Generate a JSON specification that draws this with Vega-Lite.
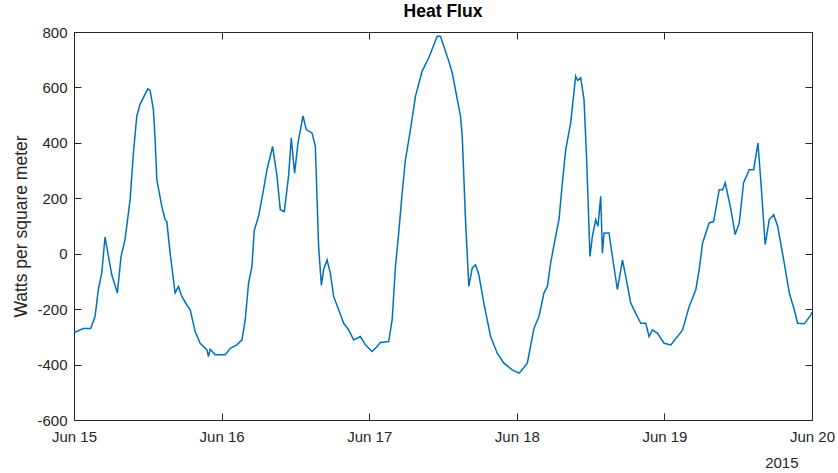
{
  "$schema": "https://vega.github.io/schema/vega-lite/v6.json",
  "autosize": "none",
  "width": 738,
  "height": 388,
  "padding": {"left": 74, "top": 32, "right": 26, "bottom": 53},
  "background": "white",
  "config": {
    "font": "Liberation Sans",
    "view": {"stroke": "#262626", "strokeWidth": 1},
    "axis": {"grid": false, "domain": false, "tickColor": "#262626", "tickSize": -7, "labelColor": "#262626", "labelFontSize": 15, "labelFont": "Liberation Sans", "titleFont": "Liberation Sans", "titleColor": "#262626", "titleFontWeight": "normal", "labelFlush": false, "labelOverlap": false}
  },
  "title": {"text": "Heat Flux", "fontSize": 17.5, "fontWeight": "bold", "color": "#000000", "offset": 5, "font": "Liberation Sans"},
  "data": {"values": [
    {"t": 0, "v": -282}, {"t": 0.16, "v": -283}, {"t": 1.51, "v": -270}, {"t": 2.72, "v": -270},
    {"t": 3.42, "v": -227}, {"t": 3.96, "v": -130}, {"t": 4.51, "v": -69}, {"t": 5.05, "v": 60},
    {"t": 6.14, "v": -76}, {"t": 7.05, "v": -142}, {"t": 7.65, "v": -10}, {"t": 8.3, "v": 51},
    {"t": 9.12, "v": 195}, {"t": 9.66, "v": 364}, {"t": 10.21, "v": 496}, {"t": 10.75, "v": 540},
    {"t": 12.0, "v": 595}, {"t": 12.37, "v": 590}, {"t": 12.91, "v": 520}, {"t": 13.19, "v": 412},
    {"t": 13.47, "v": 267}, {"t": 14.28, "v": 171}, {"t": 14.82, "v": 123}, {"t": 15.09, "v": 116},
    {"t": 15.63, "v": 2}, {"t": 16.44, "v": -142}, {"t": 16.98, "v": -118}, {"t": 17.54, "v": -154},
    {"t": 18.35, "v": -185}, {"t": 18.89, "v": -202}, {"t": 19.7, "v": -281}, {"t": 20.52, "v": -323},
    {"t": 21.61, "v": -347}, {"t": 21.87, "v": -371}, {"t": 22.14, "v": -345}, {"t": 22.96, "v": -365},
    {"t": 24.59, "v": -365}, {"t": 25.4, "v": -341}, {"t": 26.49, "v": -329}, {"t": 27.31, "v": -311},
    {"t": 27.84, "v": -239}, {"t": 28.38, "v": -107}, {"t": 28.93, "v": -46}, {"t": 29.31, "v": 84},
    {"t": 30.01, "v": 135}, {"t": 30.82, "v": 231}, {"t": 31.38, "v": 303}, {"t": 32.29, "v": 387},
    {"t": 33.01, "v": 280}, {"t": 33.54, "v": 159}, {"t": 34.19, "v": 152}, {"t": 34.89, "v": 280},
    {"t": 35.33, "v": 418}, {"t": 35.87, "v": 291}, {"t": 36.42, "v": 399}, {"t": 37.24, "v": 497},
    {"t": 37.77, "v": 448}, {"t": 38.7, "v": 436}, {"t": 39.24, "v": 387}, {"t": 39.78, "v": 24},
    {"t": 40.22, "v": -114}, {"t": 40.59, "v": -58}, {"t": 41.15, "v": -22}, {"t": 41.68, "v": -70},
    {"t": 42.22, "v": -154}, {"t": 43.03, "v": -202}, {"t": 43.85, "v": -251}, {"t": 44.66, "v": -275},
    {"t": 45.48, "v": -311}, {"t": 46.57, "v": -299}, {"t": 47.38, "v": -329}, {"t": 48.47, "v": -353},
    {"t": 49.29, "v": -335}, {"t": 49.82, "v": -320}, {"t": 51.17, "v": -317}, {"t": 51.73, "v": -239},
    {"t": 52.27, "v": -46}, {"t": 52.8, "v": 75}, {"t": 53.36, "v": 219}, {"t": 53.89, "v": 339},
    {"t": 54.71, "v": 448}, {"t": 55.52, "v": 568}, {"t": 56.61, "v": 659}, {"t": 57.69, "v": 707},
    {"t": 59.06, "v": 785}, {"t": 59.59, "v": 785}, {"t": 60.94, "v": 695}, {"t": 61.5, "v": 653},
    {"t": 62.85, "v": 496}, {"t": 63.13, "v": 424}, {"t": 63.66, "v": 123}, {"t": 64.2, "v": -118},
    {"t": 64.75, "v": -52}, {"t": 65.29, "v": -40}, {"t": 65.83, "v": -76}, {"t": 66.64, "v": -178},
    {"t": 67.74, "v": -299}, {"t": 68.82, "v": -359}, {"t": 69.9, "v": -395}, {"t": 71.27, "v": -419},
    {"t": 72.34, "v": -431}, {"t": 72.62, "v": -425}, {"t": 73.71, "v": -395}, {"t": 74.79, "v": -270},
    {"t": 75.6, "v": -227}, {"t": 76.41, "v": -142}, {"t": 76.97, "v": -118}, {"t": 77.5, "v": -34},
    {"t": 78.32, "v": 63}, {"t": 78.86, "v": 123}, {"t": 79.41, "v": 256}, {"t": 79.95, "v": 375},
    {"t": 80.76, "v": 472}, {"t": 81.57, "v": 641}, {"t": 81.9, "v": 625}, {"t": 82.39, "v": 635},
    {"t": 82.93, "v": 556}, {"t": 83.36, "v": 339}, {"t": 83.9, "v": -10}, {"t": 84.29, "v": 63},
    {"t": 84.83, "v": 123}, {"t": 85.2, "v": 99}, {"t": 85.64, "v": 207}, {"t": 85.92, "v": 2},
    {"t": 86.18, "v": 75}, {"t": 86.99, "v": 75}, {"t": 87.55, "v": -10}, {"t": 88.36, "v": -130},
    {"t": 89.18, "v": -22}, {"t": 89.71, "v": -82}, {"t": 90.53, "v": -178}, {"t": 91.34, "v": -215},
    {"t": 92.16, "v": -251}, {"t": 92.97, "v": -251}, {"t": 93.51, "v": -299}, {"t": 94.06, "v": -275},
    {"t": 94.88, "v": -287}, {"t": 95.95, "v": -323}, {"t": 97.04, "v": -329}, {"t": 98.13, "v": -299},
    {"t": 98.95, "v": -275}, {"t": 100.02, "v": -191}, {"t": 101.11, "v": -130}, {"t": 101.65, "v": -58},
    {"t": 102.21, "v": 39}, {"t": 103.28, "v": 111}, {"t": 104.0, "v": 116}, {"t": 104.91, "v": 231},
    {"t": 105.47, "v": 231}, {"t": 105.89, "v": 256}, {"t": 106.82, "v": 159}, {"t": 107.51, "v": 69},
    {"t": 108.17, "v": 111}, {"t": 108.88, "v": 256}, {"t": 109.79, "v": 303}, {"t": 110.51, "v": 303},
    {"t": 111.21, "v": 399}, {"t": 111.7, "v": 256}, {"t": 112.39, "v": 33}, {"t": 113.05, "v": 123},
    {"t": 113.77, "v": 141}, {"t": 114.42, "v": 99}, {"t": 115.49, "v": -34}, {"t": 116.31, "v": -142},
    {"t": 117.12, "v": -202}, {"t": 117.67, "v": -251}, {"t": 118.75, "v": -253}, {"t": 119.84, "v": -220},
    {"t": 120, "v": -210}
  ]},
  "layer": [
    {
      "mark": {"type": "line", "color": "#0072BD", "strokeWidth": 1.5, "clip": true},
      "encoding": {
        "x": {"field": "t", "type": "quantitative", "scale": {"domain": [0, 120], "nice": false, "zero": false},
              "axis": {"orient": "bottom", "values": [0, 24, 48, 72, 96, 120], "labelExpr": "'Jun ' + (15 + datum.value / 24)", "labelPadding": 16, "title": "2015", "titleAnchor": "end", "titleAlign": "right", "titleX": 724, "titleY": 47, "titleBaseline": "alphabetic", "titleFontSize": 15}},
        "y": {"field": "v", "type": "quantitative", "scale": {"domain": [-600, 800], "nice": false, "zero": false},
              "axis": {"orient": "left", "values": [-600, -400, -200, 0, 200, 400, 600, 800], "labelExpr": "toString(datum.value)", "labelPadding": 14, "title": "Watts per square meter", "titleFontSize": 17.5, "titlePadding": 6}}
      }
    },
    {
      "mark": {"type": "line", "opacity": 0},
      "encoding": {
        "x": {"field": "t", "type": "quantitative", "scale": {"domain": [0, 120], "nice": false, "zero": false},
              "axis": {"orient": "top", "values": [0, 24, 48, 72, 96, 120], "labels": false, "title": null}},
        "y": {"field": "v", "type": "quantitative", "scale": {"domain": [-600, 800], "nice": false, "zero": false},
              "axis": {"orient": "right", "values": [-600, -400, -200, 0, 200, 400, 600, 800], "labels": false, "title": null}}
      }
    }
  ],
  "resolve": {"axis": {"x": "independent", "y": "independent"}}
}
